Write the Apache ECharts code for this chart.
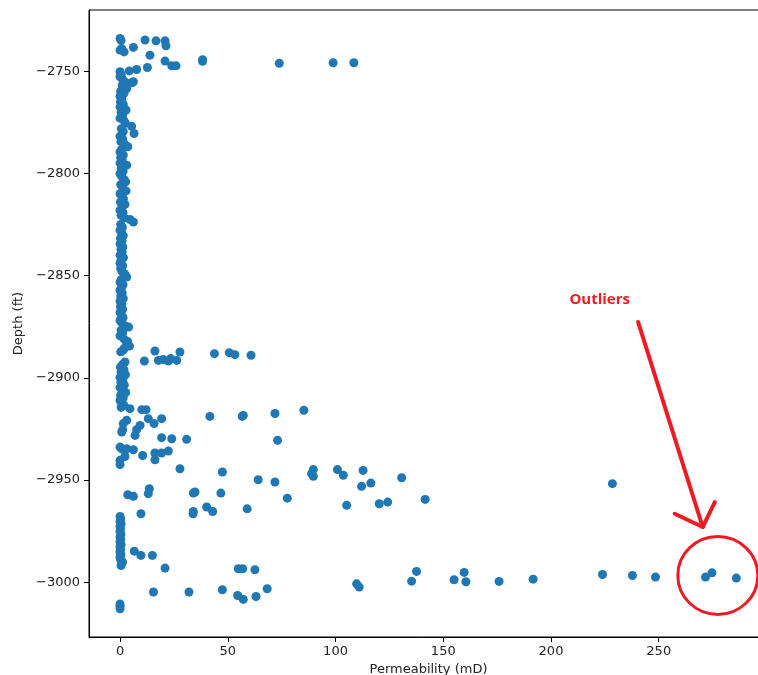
<!DOCTYPE html>
<html>
<head>
<meta charset="utf-8">
<script src="https://cdn.jsdelivr.net/npm/echarts@6/dist/echarts.min.js"></script>
<style>
  html, body { margin: 0; padding: 0; background: #fff; }
  #chart { width: 758px; height: 675px; }
</style>
</head>
<body>
<div id="chart"></div>
<script>
// Core samples: permeability (mD) against depth (ft)
const permeability = [
  // upper interval
  0, 0.5, 11.6, 16.7, 20.9, 21.3, 0, 1.9, 0.8, 6.2, 13.9, 20.9, 24, 26, 38.3, 38.3, 73.9, 98.9, 108.5, 12.7, 7.7, 4.3,
  0, 0.5, 0, 1.2, 6.2, 5.4, 2.5, 1, 3.1, 0.3, 1.8, 0, 0.8, 0.2, 1.5, 0, 2.8, 0.5, 1.2, 0, 1.8, 2.5, 5.4, 0.6, 1.5, 6.5,
  0, 1.2, 0.4, 2.2, 3.6, 0.8, 0, 1.5, 0.3, 1, 0, 3.1, 0.6, 1.4, 0, 0.8, 1.8, 2.6, 0.3, 1.2, 2.8, 0, 0.9, 1.6, 0.2, 2.3,
  1, 0, 1.4, 0.5, 2, 4.6, 6.2, 0.3, 1.1, 0, 0.7, 1.5, 0.2, 0.9, 0, 1.3, 0.4, 1, 0, 1.6, 0.5, 0, 1.2, 0.3, 0.9, 2.2, 3.1,
  0.5, 0, 1.4, 0.6, 0, 1, 0.3, 1.5, 0, 0.8, 0.2, 1.2, 0, 0.6, 1.4, 0, 0.9, 2.2, 4, 0.5, 1.2, 0, 1.8, 3.5, 3.1, 4.4, 2,
  1.5, 0.3,
  // -2890 ft streak
  16.2, 27.8, 43.8, 50.7, 53.3, 60.8, 11.3, 17.8, 20.1, 22.4, 23.5, 26.3, 2.3,
  1.2, 0.2, 1.8, 0.5, 2.5, 0, 1.3, 0.4, 2, 0, 1, 2.6, 0.3, 1.5, 0, 0.8, 1.8, 0.5,
  4.6, 10.1, 12.1,
  19.3, 13.1, 15.8, 41.7, 57.2, 56.7, 71.9, 85.3,
  3.1, 1.5, 1.2, 0.8, 9.3, 7.7, 7,
  19.3, 24, 30.9, 73.1,
  0, 0.8, 3.1, 6.2, 2.3, 0, 0, 10.5, 16.2, 19.3, 22.4, 16.2,
  27.8, 47.5, 64.1, 71.9,
  89.7, 88.9, 89.7, 100.9, 103.6, 112.8, 116.4, 112.1, 130.7, 228.5,
  3.6, 6.2, 13.6, 13.1, 34.8, 34, 46.8, 77.6, 105.2, 120.3, 124.2, 141.6,
  9.7, 34, 33.9, 40.2, 43, 59,
  // lower interval
  0, 0.3, 0, 0.5, 0, 0.2, 0, 0.4, 0, 0.3, 0, 0.5, 0, 0.2, 0, 0.4, 0, 0.3, 1.2, 0.5,
  6.6, 9.7, 15, 20.9, 54.9, 56.9, 62.6,
  15.5, 32, 47.5, 54.6, 57.2, 63.1, 68.3, 109.8, 111, 0, 0, 0,
  135.3, 137.6, 155, 159.7, 160.5, 175.9, 191.7, 223.9, 237.8, 248.5, 271.7, 274.7, 286
];

const depth = [
  -2734, -2735, -2734.8, -2735.2, -2735.2, -2737.6, -2739.7, -2740.6, -2739, -2738.4, -2742.2, -2745.1, -2747.4, -2747.4, -2744.4, -2745.2, -2746.2, -2745.9, -2745.9, -2748.2, -2749.2, -2749.9,
  -2750.3, -2751.5, -2752.8, -2754, -2755.2, -2755.7, -2755.5, -2757, -2758.5, -2759.8, -2761, -2762.3, -2763.5, -2765, -2766.2, -2767.5, -2769, -2770.2, -2771.5, -2773, -2774.2, -2775.5, -2777, -2778.2, -2779.5, -2780.5,
  -2781.8, -2783, -2784.5, -2785.8, -2787, -2788.2, -2789.5, -2791, -2792.2, -2793.5, -2795, -2796, -2797.5, -2799, -2800.2, -2801.5, -2803, -2804.2, -2805.5, -2807, -2808.6, -2810, -2811.2, -2812.5, -2814, -2815.2,
  -2816.6, -2818, -2819.2, -2820.5, -2821.8, -2822.6, -2823.8, -2825, -2826.5, -2827.8, -2829, -2830.5, -2831.8, -2833, -2834.5, -2836, -2837.2, -2838.5, -2840, -2841.2, -2842.5, -2844, -2845.2, -2846.5, -2848, -2849.2, -2850.7,
  -2852, -2853.2, -2854.5, -2856, -2857.2, -2858.5, -2860, -2861.2, -2862.5, -2864, -2865.2, -2866.5, -2868, -2869.2, -2870.5, -2872, -2873.2, -2874.5, -2875.2, -2876.8, -2878, -2879.5, -2881, -2882.2, -2883.3, -2884.5, -2885.5,
  -2886.5, -2887.3,
  -2886.9, -2887.4, -2888.2, -2887.7, -2888.7, -2889, -2891.8, -2891.5, -2891.1, -2891.8, -2890.6, -2891.5, -2892.3,
  -2893.5, -2894.8, -2896, -2897.2, -2898.5, -2899.8, -2901, -2902.2, -2903.5, -2904.8, -2906, -2907.2, -2908.5, -2909.8, -2911, -2912.2, -2913.5, -2914.5,
  -2915.1, -2915.6, -2915.6,
  -2920, -2920, -2922.4, -2918.9, -2918.4, -2918.9, -2917.5, -2915.9,
  -2920.8, -2922.4, -2925.4, -2926.5, -2923.3, -2925.4, -2928.2,
  -2929.3, -2929.8, -2930.1, -2930.6,
  -2933.9, -2934.7, -2934.7, -2935.2, -2938.5, -2940.4, -2942.5, -2938, -2936.8, -2936.8, -2935.8, -2940.1,
  -2944.5, -2946.1, -2949.9, -2951,
  -2944.9, -2946.9, -2948.2, -2944.9, -2947.7, -2945.3, -2951.5, -2953.1, -2948.9, -2951.8,
  -2957.2, -2958, -2954.3, -2956.7, -2955.9, -2956.4, -2956.4, -2958.9, -2962.4, -2961.6, -2960.8, -2959.5,
  -2966.5, -2965.4, -2966.5, -2963.2, -2965.4, -2964.1,
  -2967.8, -2969, -2970.3, -2971.5, -2972.8, -2974, -2975.2, -2976.5, -2977.8, -2979, -2980.2, -2981.5, -2982.8, -2984, -2985.2, -2986.5, -2987.8, -2989, -2990.2, -2991.8,
  -2984.8, -2986.9, -2986.9, -2993.1, -2993.4, -2993.4, -2993.9,
  -3004.8, -3004.8, -3003.7, -3006.5, -3008.4, -3007, -3003.2, -3000.8, -3002.4, -3010.6, -3011.8, -3013,
  -2999.5, -2994.7, -2998.8, -2995.2, -2999.8, -2999.6, -2998.5, -2996.2, -2996.7, -2997.5, -2997.5, -2995.4, -2998
];

const xTicks = [0, 50, 100, 150, 200, 250];
const yTicks = [-3000, -2950, -2900, -2850, -2800, -2750];

// Annotation anchors, in data units: label, arrow shaft, arrow head, ring round the outliers
const noteLabel = [222.6, -2861.6];
const arrowTail = [240.4, -2872.7];
const arrowTip = [270.4, -2973];
const arrowBarbA = [257.4, -2966.5];
const arrowBarbB = [276, -2960.8];
const ringCentre = [277.4, -2996.7];

const points = permeability.map((p, i) => [p, depth[i]]);

const minusSign = v => String(v).replace('-', '\u2212');
const axisText = { color: '#222', fontFamily: 'DejaVu Sans', fontSize: 13 };

const chart = echarts.init(document.getElementById('chart'), null, { renderer: 'canvas' });

chart.setOption({
  animation: false,
  backgroundColor: '#fff',
  grid: {
    left: 89, top: 10, right: -10, bottom: 38,
    outerBoundsMode: 'none',
    containLabel: false,
    show: true, borderColor: '#000', borderWidth: 1, backgroundColor: 'transparent'
  },
  xAxis: {
    type: 'value',
    min: -14.4, max: 300.7,
    splitLine: { show: false },
    axisLine: { onZero: false, lineStyle: { color: '#000', width: 1 } },
    axisTick: { show: true, inside: false, length: 5, lineStyle: { color: '#000' }, customValues: xTicks },
    axisLabel: Object.assign({ margin: 8, formatter: minusSign, customValues: xTicks }, axisText),
    name: 'Permeability (mD)',
    nameLocation: 'middle',
    nameGap: 23,
    nameTextStyle: axisText
  },
  yAxis: {
    type: 'value',
    min: -3026.8, max: -2720.1,
    splitLine: { show: false },
    axisLine: { onZero: false, lineStyle: { color: '#000', width: 1 } },
    axisTick: { show: true, inside: false, length: 5, lineStyle: { color: '#000' }, customValues: yTicks },
    axisLabel: Object.assign({ margin: 9, formatter: minusSign, customValues: yTicks }, axisText),
    name: 'Depth (ft)',
    nameLocation: 'middle',
    nameGap: 60,
    nameRotate: 90,
    nameTextStyle: axisText
  },
  series: [{
    type: 'scatter',
    data: points,
    symbol: 'circle',
    symbolSize: 9,
    itemStyle: { color: '#1f77b4', opacity: 1 },
    clip: false
  }]
});

// Red callout drawn on top of the plot
const px = p => chart.convertToPixel({ gridIndex: 0 }, p);
const red = '#ec1c24';
const lbl = px(noteLabel), tail = px(arrowTail), tip = px(arrowTip);
const barbA = px(arrowBarbA), barbB = px(arrowBarbB), ring = px(ringCentre);

chart.setOption({
  graphic: [
    {
      type: 'text', x: lbl[0], y: lbl[1], z: 100,
      style: {
        text: 'Outliers', fill: red, font: 'bold 15px "Open Sans", sans-serif',
        align: 'center', verticalAlign: 'middle'
      }
    },
    {
      type: 'line', z: 100,
      shape: { x1: tail[0], y1: tail[1], x2: tip[0], y2: tip[1] },
      style: { stroke: red, lineWidth: 4, lineCap: 'round' }
    },
    {
      type: 'polyline', z: 100,
      shape: { points: [barbA, tip, barbB] },
      style: { stroke: red, lineWidth: 4, lineCap: 'round', lineJoin: 'round', fill: 'none' }
    },
    {
      type: 'ellipse', z: 100,
      shape: { cx: ring[0], cy: ring[1], rx: 40, ry: 39 },
      style: { stroke: red, lineWidth: 3, fill: 'none' }
    }
  ]
});
</script>
</body>
</html>
